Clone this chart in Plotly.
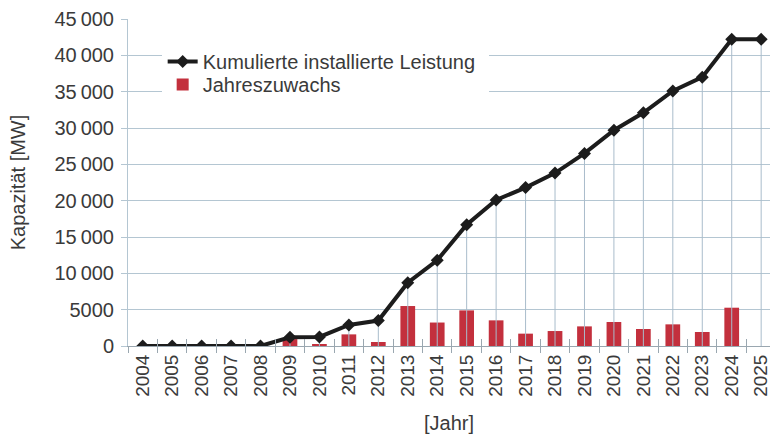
import plotly.graph_objects as go

years = [str(y) for y in range(2004, 2026)]
cumulative = [0, 0, 0, 0, 0, 1200, 1250, 2900, 3500, 8700, 11800, 16700, 20100,
              21800, 23800, 26500, 29700, 32100, 35100, 37000, 42200, 42200]
annual = [0, 0, 0, 0, 0, 950, 250, 1600, 550, 5500, 3230, 4900, 3530,
          1700, 2060, 2700, 3300, 2340, 2980, 1930, 5270, None]
ytick_vals = [0, 5000, 10000, 15000, 20000, 25000, 30000, 35000, 40000, 45000]
ytick_text = ["0", "5000", "10\u2009000", "15\u2009000", "20\u2009000", "25\u2009000",
              "30\u2009000", "35\u2009000", "40\u2009000", "45\u2009000"]

GRID = "#b4c6d2"
TXT = "#3a3a3a"
FONT = "Liberation Sans, Arial, sans-serif"

# drop lines from each point down to zero
drop_x, drop_y = [], []
for yr, v in zip(years, cumulative):
    drop_x += [yr, yr, None]
    drop_y += [0, v, None]

fig = go.Figure()
fig.add_trace(go.Scatter(x=drop_x, y=drop_y, mode="lines",
                         line=dict(color="#a9bccb", width=1),
                         showlegend=False, hoverinfo="skip"))
fig.add_trace(go.Bar(x=years, y=annual, name="Jahreszuwachs",
                     marker=dict(color="#c3303d", line=dict(width=0)),
                     width=0.5, legend="legend2"))
fig.add_trace(go.Scatter(x=years, y=cumulative, mode="lines+markers",
                         name="Kumulierte installierte Leistung",
                         line=dict(color="#1c1c1c", width=4),
                         marker=dict(symbol="diamond", size=10, color="#1c1c1c"),
                         legend="legend"))
# helper trace for the inside half of the crossing category ticks
fig.add_trace(go.Scatter(x=[0], y=[0], xaxis="x2", mode="markers",
                         marker=dict(opacity=0), showlegend=False, hoverinfo="skip"))

n = len(years)
PLOT_H = 434 - 19 - 88
def ypix(p):  # pixel row -> paper fraction
    return (434 - 88 - p) / PLOT_H

fig.update_layout(
    width=770, height=434,
    margin=dict(l=128, r=0, t=19, b=88, autoexpand=False),
    paper_bgcolor="white", plot_bgcolor="white",
    font=dict(family=FONT, color=TXT, size=20),
    showlegend=True,
    legend=dict(x=0.054, y=ypix(42), xanchor="left", yanchor="top",
                bgcolor="rgba(0,0,0,0)", font=dict(size=20, color=TXT),
                itemwidth=30, borderwidth=0),
    legend2=dict(x=0.054, y=ypix(65), xanchor="left", yanchor="top",
                 bgcolor="rgba(0,0,0,0)", font=dict(size=20, color=TXT),
                 itemwidth=30, borderwidth=0),
    shapes=[dict(type="rect", xref="paper", yref="paper",
                 x0=(162 - 128) / 642, x1=(489 - 128) / 642,
                 y0=ypix(101), y1=ypix(40),
                 fillcolor="white", line=dict(width=0), layer="above")],
    bargap=0.5,
    xaxis=dict(type="category", range=[-0.5, n - 0.7], automargin=False,
               showgrid=False, showline=True, linecolor="#9aa7b0", linewidth=1,
               ticks="outside", tickson="boundaries", ticklen=6, tickcolor="#9aa7b0",
               tickangle=-90, tickfont=dict(size=19, color=TXT),
               title=dict(text="[Jahr]", font=dict(size=20, color=TXT), standoff=20)),
    xaxis2=dict(overlaying="x", range=[-0.5, n - 0.7], showgrid=False, automargin=False,
                tickvals=[i - 0.5 for i in range(n + 1)], showticklabels=False,
                ticks="inside", ticklen=7, tickcolor="#9aa7b0", showline=False,
                zeroline=False, side="bottom", anchor="y"),
    yaxis=dict(range=[0, 45000], tickvals=ytick_vals, ticktext=ytick_text,
               automargin=False,
               showgrid=True, gridcolor=GRID, gridwidth=1,
               showline=True, linecolor=GRID, linewidth=1, zeroline=False,
               ticks="outside", ticklen=6, tickcolor=GRID,
               tickfont=dict(size=20, color=TXT), ticklabelstandoff=3,
               title=dict(text="Kapazität [MW]", font=dict(size=20, color=TXT), standoff=23)),
)

fig.write_html("out.html", config={"displayModeBar": False},
               post_script="document.body.style.margin='0';document.body.style.overflow='hidden';")
